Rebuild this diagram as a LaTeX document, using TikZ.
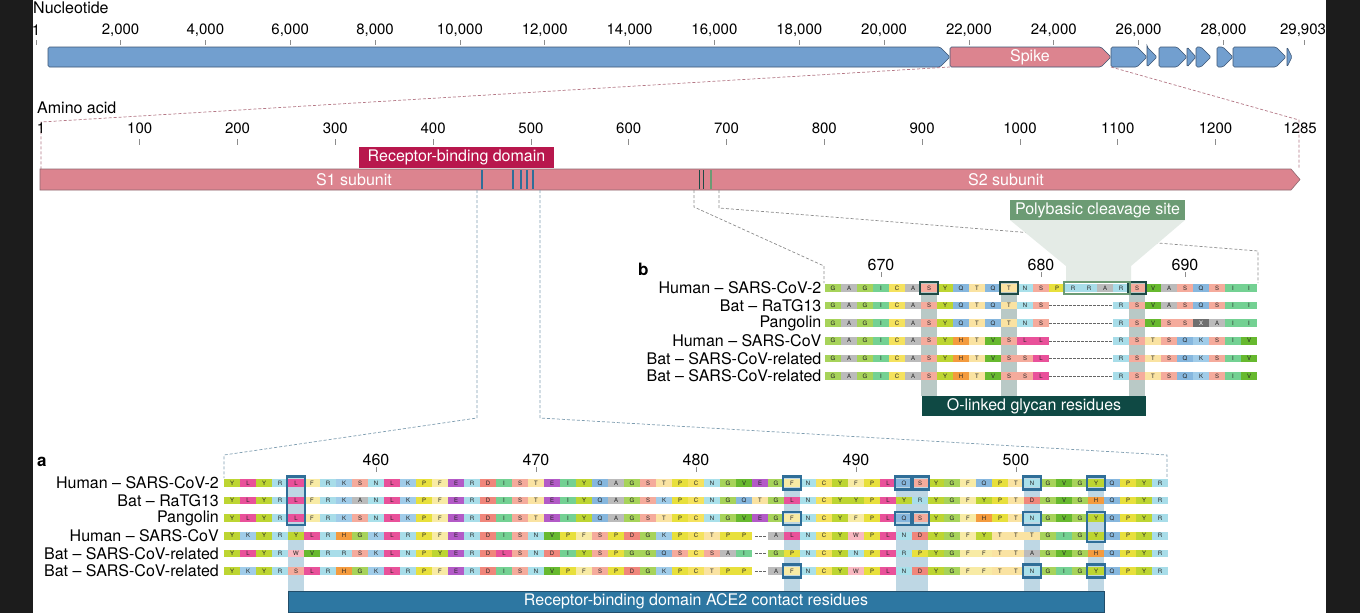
\documentclass[tikz,border=0pt]{standalone}
\usepackage{fontspec}
\setmainfont{TeX Gyre Heros}
\usetikzlibrary{positioning}

\definecolor{geneblue}{HTML}{729FCF}
\definecolor{geneedge}{HTML}{3D5675}
\definecolor{spikepink}{HTML}{DC848F}
\definecolor{spikeedge}{HTML}{8E6870}
\definecolor{rbdred}{HTML}{B8174D}
\definecolor{acehl}{HTML}{BED7E4}
\definecolor{aceline}{HTML}{2F6E98}
\definecolor{acebar}{HTML}{2D77A2}
\definecolor{glyhl}{HTML}{B9C9C6}
\definecolor{glyline}{HTML}{1D4A46}
\definecolor{glybar}{HTML}{0F4944}
\definecolor{polygreen}{HTML}{6C9B74}
\definecolor{polyfun}{HTML}{E4EBE6}
\definecolor{pinkdash}{HTML}{B57886}
\definecolor{bluedash}{HTML}{7E9DB0}
\definecolor{graydash}{HTML}{8C8C8C}
\definecolor{sidebar}{HTML}{1C1C1C}
% residue colours
\definecolor{aaY}{HTML}{BDD532}
\definecolor{aaL}{HTML}{E9519A}
\definecolor{aaR}{HTML}{A8DDE9}
\definecolor{aaK}{HTML}{A0CCE9}
\definecolor{aaF}{HTML}{F8EBA5}
\definecolor{aaS}{HTML}{F5AB9C}
\definecolor{aaN}{HTML}{A9E0EA}
\definecolor{aaP}{HTML}{E8E03C}
\definecolor{aaE}{HTML}{B35AC7}
\definecolor{aaD}{HTML}{F0867B}
\definecolor{aaI}{HTML}{74D193}
\definecolor{aaT}{HTML}{FAE3A2}
\definecolor{aaQ}{HTML}{86B7DE}
\definecolor{aaA}{HTML}{BBBBBB}
\definecolor{aaG}{HTML}{A7D35A}
\definecolor{aaC}{HTML}{F5E25E}
\definecolor{aaV}{HTML}{67B92F}
\definecolor{aaH}{HTML}{F49B3E}
\definecolor{aaW}{HTML}{F9B9C1}
\definecolor{aaX}{HTML}{6F6F6F}
\definecolor{aao}{HTML}{FFFFFF}

\tikzset{
    lbl/.style={inner sep=0pt, font=\fontsize{16}{18}\selectfont},
    ticklbl/.style={inner sep=0pt, font=\fontsize{15}{17}\selectfont},
    tickmark/.style={draw=black!45, line width=0.8pt},
    seqname/.style={lbl, anchor=east},
    genebox/.style={draw=geneedge, line width=0.6pt, rounded corners=1.5pt},
    aabar/.style={fill=spikepink, draw=spikeedge, line width=0.6pt},
    res/.style={fill=aa#1, text=black!85, minimum width=16pt, minimum height=7.5pt,
        inner sep=0pt, font=\fontsize{6}{6}\selectfont, res#1/.try},
    resX/.style={text=white},
    acebox/.style={draw=aceline, line width=2.2pt},
    glybox/.style={draw=glyline, line width=2pt},
    polybox/.style={draw=polygreen, line width=2pt},
    gapline/.style={draw=black!60, line width=0.6pt, dash pattern=on 2.5pt off 1.5pt},
    pinkline/.style={draw=pinkdash, line width=0.7pt, dash pattern=on 3pt off 2pt},
    blueline/.style={draw=bluedash, line width=0.7pt, dash pattern=on 3pt off 2pt},
    grayline/.style={draw=graydash, line width=0.7pt, dash pattern=on 3pt off 2pt},
    whitelbl/.style={lbl, text=white},
}

\newcommand{\resltr}[1]{\if o#1\else#1\fi}
\newcommand{\seqrow}[4]{%
    \foreach \rs [count=\i from 0] in {#4} {
        \node[res=\rs] (#1-\i) at ({#2+8+16*\i}, #3) {\resltr{\rs}};
    }
}
\newcommand{\cellbox}[3][acebox]{\draw[#1] ([shift={(-1,-2.5)}]#2.north west) rectangle ([shift={(1,2.5)}]#3.south east);}
\newcommand{\gene}[3]{\draw[genebox, fill=#3] (#1,47) -- ({max(#1,#2-10)},47) -- (#2,57) -- ({max(#1,#2-10)},67) -- (#1,67) -- cycle;}

\begin{document}
\begin{tikzpicture}[x=1pt, y=-1pt]
    \useasboundingbox (0,0) rectangle (1360,613);
    \fill[white] (0,0) rectangle (1360,613);
    \fill[sidebar] (0,0) rectangle (33,613);
    \fill[sidebar] (1326,0) rectangle (1360,613);

    % nucleotide axis
    \node[lbl, anchor=west] (ntlbl) at (33,8) {Nucleotide};
    \node[ticklbl] (nt1) at (36,30) {1};
    \draw[tickmark] (36,40) -- ++(0,5);
    \foreach \n in {2,4,...,28} {
        \node[ticklbl] (nt\n) at ({35.7+\n*42.42},30) {\n,000};
        \draw[tickmark] ({35.7+\n*42.42},40) -- ++(0,5);
    }
    \node[ticklbl] (ntend) at (1303,30) {29,903};
    \draw[tickmark] (1304,40) -- ++(0,5);

    % genes
    \gene{48}{950}{geneblue}
    \gene{950}{1111}{spikepink}
    \node[whitelbl] (spike) at (1030,57) {Spike};
    \gene{1111}{1147}{geneblue}
    \gene{1147}{1157}{geneblue}
    \gene{1159}{1187}{geneblue}
    \draw[genebox, fill=geneblue] (1187,47) -- (1196,57) -- (1187,67) -- cycle;
    \gene{1196}{1211}{geneblue}
    \gene{1217}{1233}{geneblue}
    \gene{1233}{1286}{geneblue}
    \draw[genebox, fill=geneblue] (1287,47) -- (1292,57) -- (1287,67) -- cycle;

    % spike zoom lines
    \coordinate (spkL) at (950,67);
    \coordinate (spkR) at (1111,67);
    \coordinate (aaStop) at (41,122);
    \coordinate (aaS) at (41,169);
    \coordinate (aaEtop) at (1299,120);
    \coordinate (aaE) at (1299,169);
    \draw[pinkline] (spkL) -- (aaStop) -- (aaS);
    \draw[pinkline] (spkR) -- (aaEtop) -- (aaE);

    % amino acid axis
    \node[lbl, anchor=west] (aalbl) at (37,108) {Amino acid};
    \node[ticklbl] (aa1) at (41,128) {1};
    \foreach \a in {100,200,...,1200} {
        \node[ticklbl] (aa\a) at ({42.9+(\a-1)*0.978},128) {\a};
        \draw[tickmark] ({42.9+(\a-1)*0.978},139) -- ++(0,6);
    }
    \node[ticklbl] (aa1285) at (1300,128) {1285};
    \draw[aabar] (40,169) -- (1291,169) -- (1300,179.5) -- (1291,190) -- (40,190) -- cycle;
    \node[whitelbl] (s1) at (354,179.5) {S1 subunit};
    \node[whitelbl] (s2) at (1006,179.5) {S2 subunit};
    \node[whitelbl, fill=rbdred, minimum width=195pt, minimum height=21pt] (rbd) at (456.5,157.5) {Receptor-binding domain};
    \foreach \x in {482,513,521,527,533} {
        \draw[aceline, line width=1.3pt] (\x,170) -- (\x,189);
    }
    \foreach \x in {699.5,703.8} {
        \draw[glyline, line width=1.3pt] (\x,170) -- (\x,189);
    }
    \draw[polygreen, line width=1.3pt] (711,170) -- (711,189);

    % zoom lines to a and b
    \coordinate (aL0) at (477,190);
    \coordinate (aL1) at (477,418);
    \coordinate (aL2) at (224,455);
    \coordinate (aL3) at (224,478);
    \coordinate (aR0) at (540,190);
    \coordinate (aR1) at (540,418);
    \coordinate (aR2) at (1167,455);
    \coordinate (aR3) at (1167,478);
    \draw[blueline] (aL0) -- (aL1) -- (aL2) -- (aL3);
    \draw[blueline] (aR0) -- (aR1) -- (aR2) -- (aR3);
    \coordinate (bL0) at (694,190);
    \coordinate (bL1) at (694,207);
    \coordinate (bL2) at (824,266);
    \coordinate (bL3) at (824,283);
    \coordinate (bR0) at (719,190);
    \coordinate (bR1) at (719,208);
    \coordinate (bR2) at (1258,251);
    \coordinate (bR3) at (1258,283);
    \draw[grayline] (bL0) -- (bL1) -- (bL2) -- (bL3);
    \draw[grayline] (bR0) -- (bR1) -- (bR2) -- (bR3);

    % polybasic site
    \fill[polyfun] (1010,220) -- (1185,220) -- (1131,266) -- (1131,282) -- (1066,282) -- (1066,266) -- cycle;
    \node[whitelbl, fill=polygreen, minimum width=175pt, minimum height=20pt] (poly) at (1097.5,210) {Polybasic cleavage site};

    % panel b
    \node[inner sep=0pt, anchor=west, font=\fontsize{17}{19}\selectfont\bfseries] (bmark) at (638,269) {b};
    \foreach \c in {6,11,19} {
        \fill[glyhl] ({825+16*\c},283) rectangle ++(16,113);
    }
    \seqrow{b1}{825}{288}{G,A,G,I,C,A,S,Y,Q,T,Q,T,N,S,P,R,R,A,R,S,V,A,S,Q,S,I,I}
    \seqrow{b2}{825}{305.6}{G,A,G,I,C,A,S,Y,Q,T,Q,T,N,S,o,o,o,o,R,S,V,A,S,Q,S,I,I}
    \seqrow{b3}{825}{323.2}{G,A,G,I,C,A,S,Y,Q,T,Q,T,N,S,o,o,o,o,R,S,V,S,S,X,A,I,I}
    \seqrow{b4}{825}{340.8}{G,A,G,I,C,A,S,Y,H,T,V,S,L,L,o,o,o,o,R,S,T,S,Q,K,S,I,V}
    \seqrow{b5}{825}{358.4}{G,A,G,I,C,A,S,Y,H,T,V,S,S,L,o,o,o,o,R,S,T,S,Q,K,S,I,V}
    \seqrow{b6}{825}{376}{G,A,G,I,C,A,S,Y,H,T,V,S,S,L,o,o,o,o,R,S,T,S,Q,K,S,I,V}
    \foreach \r in {2,...,6} {
        \draw[gapline] (b\r-13.east) -- (b\r-18.west);
    }
    \foreach \c in {6,11,19} {
        \cellbox[glybox]{b1-\c}{b1-\c}
    }
    \cellbox[polybox]{b1-15}{b1-18}
    \foreach \c/\t in {3/670,13/680,22/690} {
        \node[lbl, above=13.5pt of b1-\c] (bt\t) {\t};
        \draw[tickmark] ([yshift=7pt]b1-\c.north) -- ++(0,-5);
    }
    \node[seqname] (bn1) at (821.5,288) {Human – SARS-CoV-2};
    \node[seqname] (bn2) at (821.5,305.6) {Bat – RaTG13};
    \node[seqname] (bn3) at (821.5,323.2) {Pangolin};
    \node[seqname] (bn4) at (821.5,340.8) {Human – SARS-CoV};
    \node[seqname] (bn5) at (821.5,358.4) {Bat – SARS-CoV-related};
    \node[seqname] (bn6) at (821.5,376) {Bat – SARS-CoV-related};
    \node[whitelbl, fill=glybar, minimum width=224pt, minimum height=20pt] (glyc) at (1034,406) {O-linked glycan residues};

    % panel a
    \node[inner sep=0pt, anchor=west, font=\fontsize{17}{19}\selectfont\bfseries] (amark) at (37,462) {a};
    \foreach \c in {4,35,42,43,50,54} {
        \fill[acehl] ({224+16*\c},478) rectangle ++(16,113);
    }
    \seqrow{a1}{224}{483}{Y,L,Y,R,L,F,R,K,S,N,L,K,P,F,E,R,D,I,S,T,E,I,Y,Q,A,G,S,T,P,C,N,G,V,E,G,F,N,C,Y,F,P,L,Q,S,Y,G,F,Q,P,T,N,G,V,G,Y,Q,P,Y,R}
    \seqrow{a2}{224}{500.6}{Y,L,Y,R,L,F,R,K,A,N,L,K,P,F,E,R,D,I,S,T,E,I,Y,Q,A,G,S,K,P,C,N,G,Q,T,G,L,N,C,Y,Y,P,L,Y,R,Y,G,F,Y,P,T,D,G,V,G,H,Q,P,Y,R}
    \seqrow{a3}{224}{518.2}{Y,L,Y,R,L,F,R,K,S,N,L,K,P,F,E,R,D,I,S,T,E,I,Y,Q,A,G,S,T,P,C,N,G,V,E,G,F,N,C,Y,F,P,L,Q,S,Y,G,F,H,P,T,N,G,V,G,Y,Q,P,Y,R}
    \seqrow{a4}{224}{535.8}{Y,K,Y,R,Y,L,R,H,G,K,L,R,P,F,E,R,D,I,S,N,V,P,F,S,P,D,G,K,P,C,T,P,P,o,A,L,N,C,Y,W,P,L,N,D,Y,G,F,Y,T,T,T,G,I,G,Y,Q,P,Y,R}
    \seqrow{a5}{224}{553.4}{Y,L,Y,R,W,V,R,R,S,K,L,N,P,Y,E,R,D,L,S,N,D,I,Y,S,P,G,G,Q,S,C,S,A,I,o,G,P,N,C,Y,N,P,L,R,P,Y,G,F,F,T,T,A,G,V,G,H,Q,P,Y,R}
    \seqrow{a6}{224}{571}{Y,K,Y,R,S,L,R,H,G,K,L,R,P,F,E,R,D,I,S,N,V,P,F,S,P,D,G,K,P,C,T,P,P,o,A,F,N,C,Y,W,P,L,N,D,Y,G,F,F,T,T,N,G,I,G,Y,Q,P,Y,R}
    \foreach \r in {4,5,6} {
        \draw[gapline, shorten <=3pt, shorten >=2pt] (a\r-32.east) -- (a\r-34.west);
    }
    \cellbox{a1-4}{a3-4}
    \foreach \r in {1,3,6} {
        \cellbox{a\r-35}{a\r-35}
        \cellbox{a\r-50}{a\r-50}
    }
    \foreach \r in {1,3} {
        \cellbox{a\r-42}{a\r-42}
        \cellbox{a\r-43}{a\r-43}
    }
    \cellbox{a1-54}{a1-54}
    \cellbox{a3-54}{a4-54}
    \cellbox{a6-54}{a6-54}
    \foreach \c/\t in {9/460,19/470,29/480,39/490,49/500} {
        \node[lbl, above=13.5pt of a1-\c] (at\t) {\t};
        \draw[tickmark] ([yshift=7pt]a1-\c.north) -- ++(0,-5);
    }
    \node[seqname] (an1) at (219,483) {Human – SARS-CoV-2};
    \node[seqname] (an2) at (219,500.6) {Bat – RaTG13};
    \node[seqname] (an3) at (219,518.2) {Pangolin};
    \node[seqname] (an4) at (219,535.8) {Human – SARS-CoV};
    \node[seqname] (an5) at (219,553.4) {Bat – SARS-CoV-related};
    \node[seqname] (an6) at (219,571) {Bat – SARS-CoV-related};
    \node[whitelbl, fill=acebar, draw=aceline!70!black, line width=0.6pt, minimum width=816pt, minimum height=21pt] (ace2) at (696,601.5) {Receptor-binding domain ACE2 contact residues};
\end{tikzpicture}
\end{document}
